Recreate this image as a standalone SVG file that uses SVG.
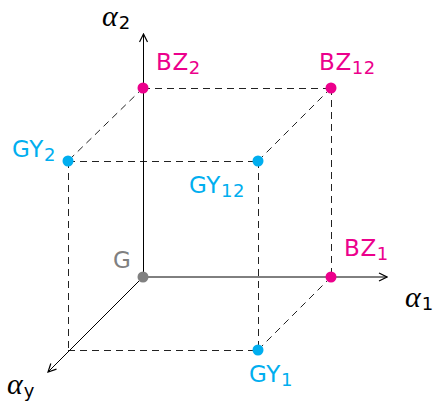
<svg xmlns="http://www.w3.org/2000/svg" width="436" height="404" viewBox="0 0 436 404">
<style>
.ax{stroke:#000;stroke-width:1;fill:none}
.dash{stroke:#222;stroke-width:1;fill:none;stroke-dasharray:7,5}
.lbl{font-family:"DejaVu Sans","Liberation Sans",sans-serif;font-size:23px;letter-spacing:0.6px}
.sub{font-size:18px}
.mag{fill:#EC008C}
.cy{fill:#00AEEF}
.gr{fill:#808080}
.gk{font-family:"Liberation Serif","DejaVu Serif",serif;font-style:italic;font-size:30px;fill:#000}
.gs{font-family:"DejaVu Sans",sans-serif;font-style:normal;font-size:18px}
</style>
<defs>
<marker id="arr" viewBox="0 0 10 10" refX="9" refY="5" markerWidth="10" markerHeight="10" markerUnits="userSpaceOnUse" orient="auto">
<path d="M1,1 L9,5 L1,9" fill="none" stroke="#000" stroke-width="1.2"/>
</marker>
</defs>
<g id="connectors">
<line class="dash" x1="143" y1="88.5" x2="331" y2="88.5"/>
<line class="dash" x1="331.5" y1="88" x2="331.5" y2="277"/>
<line class="dash" x1="143" y1="88" x2="68" y2="161"/>
<line class="dash" x1="331" y1="88" x2="258" y2="161"/>
<line class="dash" x1="68" y1="161.5" x2="258" y2="161.5"/>
<line class="dash" x1="68.5" y1="161" x2="68.5" y2="350"/>
<line class="dash" x1="258.5" y1="161" x2="258.5" y2="350"/>
<line class="dash" x1="68" y1="350.5" x2="258" y2="350.5"/>
<line class="dash" x1="331" y1="277" x2="258" y2="350"/>
<line class="ax" x1="143.5" y1="277" x2="143.5" y2="34" marker-end="url(#arr)"/>
<line class="ax" x1="143" y1="277" x2="387" y2="277" marker-end="url(#arr)"/>
<line class="ax" x1="143" y1="277" x2="48" y2="372" marker-end="url(#arr)"/>
</g>
<g id="axis-labels">
<text class="gk" x="102" y="26">α<tspan class="gs" dx="1" dy="3">2</tspan></text>
<text class="gk" x="405" y="307">α<tspan class="gs" dx="1" dy="3">1</tspan></text>
<text class="gk" x="7" y="394">α<tspan class="gs" font-size="16px" dx="1" dy="3">y</tspan></text>
</g>
<g id="G"><circle cx="143" cy="277" r="5.5" class="gr"/><text class="lbl gr" x="113" y="268">G</text></g>
<g id="BZ2"><circle cx="143" cy="88" r="5.5" class="mag"/><text class="lbl mag" x="156" y="70">BZ<tspan class="sub" dy="4">2</tspan></text></g>
<g id="BZ12"><circle cx="331" cy="88" r="5.5" class="mag"/><text class="lbl mag" x="319" y="70">BZ<tspan class="sub" dy="4">12</tspan></text></g>
<g id="BZ1"><circle cx="331" cy="277" r="5.5" class="mag"/><text class="lbl mag" x="344" y="256">BZ<tspan class="sub" dy="4">1</tspan></text></g>
<g id="GY2"><circle cx="68" cy="161" r="5.5" class="cy"/><text class="lbl cy" x="12" y="157">GY<tspan class="sub" dy="4">2</tspan></text></g>
<g id="GY12"><circle cx="258" cy="161" r="5.5" class="cy"/><text class="lbl cy" x="189" y="193">GY<tspan class="sub" dy="4">12</tspan></text></g>
<g id="GY1"><circle cx="258" cy="350" r="5.5" class="cy"/><text class="lbl cy" x="249" y="382">GY<tspan class="sub" dy="4">1</tspan></text></g>
</svg>
